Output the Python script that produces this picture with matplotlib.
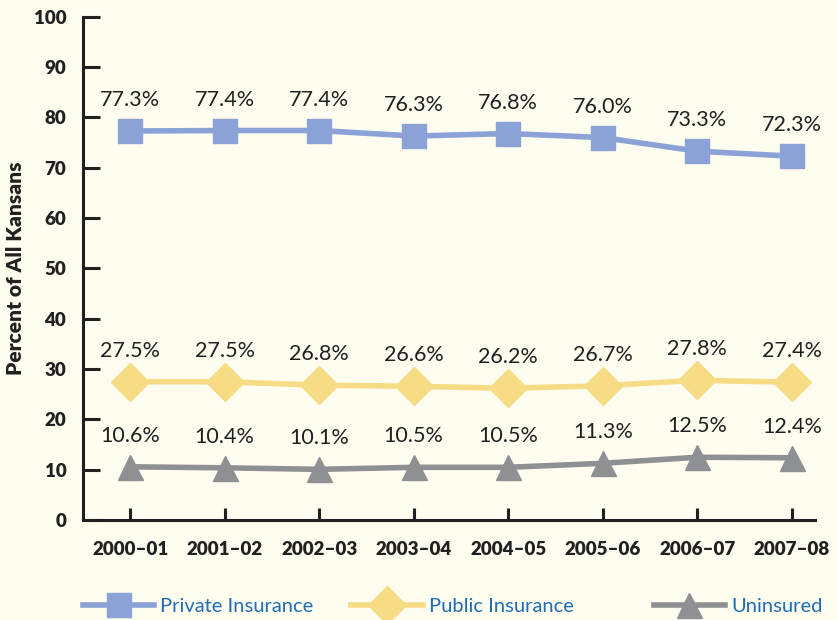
import matplotlib
matplotlib.use("Agg")
import matplotlib.pyplot as plt
from matplotlib.lines import Line2D

plt.rcParams["font.family"] = ["Lato", "DejaVu Sans"]

years = ["2000\u201301", "2001\u201302", "2002\u201303", "2003\u201304",
         "2004\u201305", "2005\u201306", "2006\u201307", "2007\u201308"]
private = [77.3, 77.4, 77.4, 76.3, 76.8, 76.0, 73.3, 72.3]
public = [27.5, 27.5, 26.8, 26.6, 26.2, 26.7, 27.8, 27.4]
uninsured = [10.6, 10.4, 10.1, 10.5, 10.5, 11.3, 12.5, 12.4]

bg = "#fffcf0"
ink = "#231f20"
series = [
    ("Private Insurance", private, "#8aa2d5", "s", 17),
    ("Public Insurance", public, "#f6dc84", "D", 19),
    ("Uninsured", uninsured, "#8f9094", "^", 18),
]

fig = plt.figure(figsize=(8.38, 6.2), dpi=100, facecolor=bg)
ax = fig.add_axes([0.099, 0.161, 0.874, 0.812])
ax.set_facecolor(bg)

x = list(range(len(years)))
for name, vals, color, marker, ms in series:
    ax.plot(x, vals, color=color, lw=4, marker=marker, ms=ms,
            mec=color, mfc=color, zorder=3, clip_on=False)
    for xi, v in zip(x, vals):
        ax.annotate(f"{v:.1f}%", (xi, v), xytext=(0, 15), textcoords="offset points",
                    ha="center", va="bottom", fontsize=15.5, color=ink)

ax.set_xlim(-0.5, 7.25)
ax.set_ylim(0, 100)
ax.set_yticks(range(0, 101, 10))
ax.set_xticks(x)
ax.set_xticklabels(years)
for s in ["top", "right"]:
    ax.spines[s].set_visible(False)
for s in ["left", "bottom"]:
    ax.spines[s].set_linewidth(2.2)
    ax.spines[s].set_color(ink)
ax.tick_params(axis="y", direction="in", length=12, width=2.2, color=ink, pad=12,
               labelsize=13.5, labelcolor=ink)
ax.tick_params(axis="x", direction="in", length=9, width=2.2, color=ink, pad=15,
               labelsize=13.5, labelcolor=ink)
for lab in ax.get_xticklabels() + ax.get_yticklabels():
    lab.set_fontweight("heavy")
ax.set_ylabel("Percent of All Kansans", fontsize=15, fontweight="heavy", color=ink)
ax.yaxis.set_label_coords(-0.079, 0.5)

# one legend per entry so the gaps follow the reference
leg_x = [0.099, 0.419, 0.780]
for (name, _, c, m, ms), lx in zip(series, leg_x):
    h = Line2D([], [], color=c, lw=4, marker=m, ms=ms, mec=c, mfc=c)
    leg = fig.legend([h], [name], loc="center left", bbox_to_anchor=(lx, 0.022),
                     frameon=False, handlelength=3.55, handletextpad=0.3,
                     borderpad=0, borderaxespad=0, fontsize=14.5)
    leg.get_texts()[0].set_color("#1f6db3")

fig.savefig("out.png", dpi=100, facecolor=bg)
